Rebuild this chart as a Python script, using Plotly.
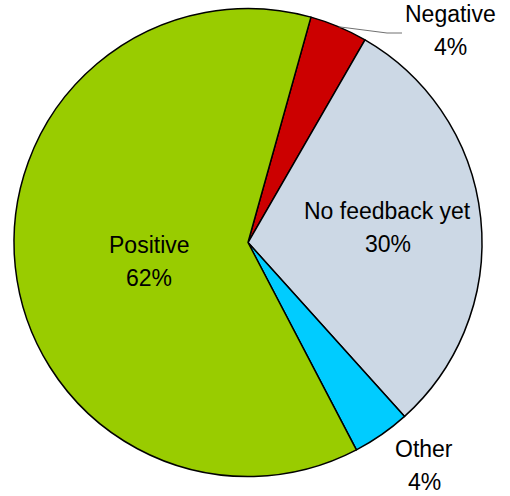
import math
import plotly.graph_objects as go

# Feedback status breakdown (percent of responses)
labels = ["Negative", "No feedback yet", "Other", "Positive"]
values = [4, 30, 4, 62]
colors = ["#CC0000", "#CCD8E5", "#00CCFF", "#99CC00"]

W, H = 510, 496
CX, CY, R = 248, 242.5, 234   # pie centre and radius in pixels
ROTATION = 15.6                # start of first slice, degrees clockwise from 12 o'clock
FONT = dict(family="Liberation Sans, Arial, sans-serif", size=23, color="#000000")
LINE_GAP = 33                  # pixel distance between the two label lines

fig = go.Figure(
    go.Pie(
        labels=labels,
        values=values,
        sort=False,
        direction="clockwise",
        rotation=ROTATION,
        marker=dict(colors=colors, line=dict(color="#000000", width=1.5)),
        textinfo="none",
        hoverinfo="label+percent",
        showlegend=False,
        domain=dict(x=[(CX - R) / W, (CX + R) / W], y=[1 - (CY + R) / H, 1 - (CY - R) / H]),
    )
)

total = sum(values)
mids = []
acc = 0.0
for v in values:
    mids.append(ROTATION + (acc + v / 2) / total * 360)
    acc += v


def px_to_paper(x, y):
    return x / W, 1 - y / H


def on_circle(angle_deg, r):
    a = math.radians(angle_deg)
    return CX + r * math.sin(a), CY - r * math.cos(a)


# label placement: inside labels sit along the slice's mid angle ("rad", radius factor, y shift),
# outside labels sit at a fixed pixel spot ("abs", x, y)
placement = {
    "Negative": ("abs", 450, 31),
    "No feedback yet": ("rad", 0.60, 0),
    "Other": ("abs", 424, 465),
    "Positive": ("rad", 0.425, 8.6),
}

annotations = []
for lab, v, mid in zip(labels, values, mids):
    kind, a, b = placement[lab]
    if kind == "rad":
        x, y = on_circle(mid, a * R)
        y += b
    else:
        x, y = a, b
    pct = round(v / total * 100)
    for text, dy in ((lab, -LINE_GAP / 2), (f"{pct}%", LINE_GAP / 2)):
        px, py = px_to_paper(x, y + dy)
        annotations.append(
            dict(x=px, y=py, xref="paper", yref="paper", text=text, showarrow=False,
                 xanchor="center", yanchor="middle", borderpad=0, font=FONT)
        )

# leader line from the Negative slice to its label
neg_mid = mids[labels.index("Negative")]
sx, sy = on_circle(neg_mid, R)
pts = [(sx, sy), (387, 33), (402, 33)]
path = "M " + " L ".join(f"{px_to_paper(x, y)[0]},{px_to_paper(x, y)[1]}" for x, y in pts)

fig.update_layout(
    width=W,
    height=H,
    margin=dict(l=0, r=0, t=0, b=0),
    paper_bgcolor="#FFFFFF",
    plot_bgcolor="#FFFFFF",
    annotations=annotations,
    shapes=[dict(type="path", path=path, xref="paper", yref="paper",
                 line=dict(color="#707070", width=1))],
)

fig.write_html("out.html")
